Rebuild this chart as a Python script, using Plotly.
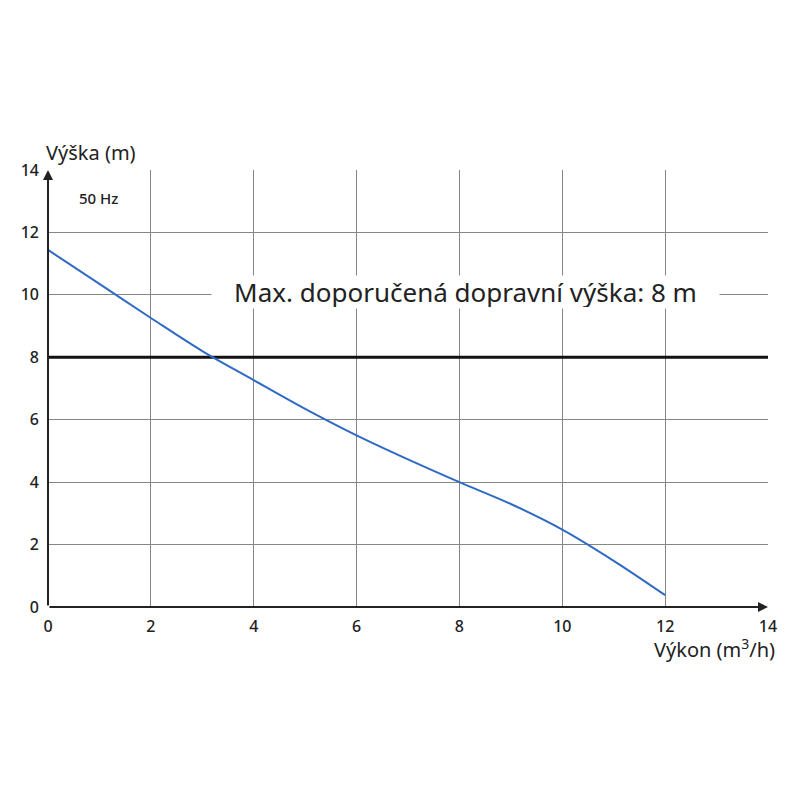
import plotly.graph_objects as go

# Pump curve data (flow m3/h vs head m)
flow = [0, 1, 2, 3, 4, 5, 6, 7, 8, 9, 10, 11, 12]
head = [11.44, 10.35, 9.26, 8.2, 7.27, 6.35, 5.5, 4.73, 4.0, 3.3, 2.48, 1.48, 0.38]

max_head = 8
x_ticks = [0, 2, 4, 6, 8, 10, 12, 14]
y_ticks = [0, 2, 4, 6, 8, 10, 12, 14]

FONT = "Noto Sans"
TXT = "#222222"

fig = go.Figure()

fig.add_trace(go.Scatter(x=[0, 14], y=[max_head, max_head], mode="lines",
                         line=dict(color="#111111", width=3), hoverinfo="skip"))
fig.add_trace(go.Scatter(x=flow, y=head, mode="lines",
                         line=dict(color="#2f6ac4", width=2, shape="spline", smoothing=1.0),
                         hoverinfo="skip"))

fig.update_layout(
    width=800, height=800,
    margin=dict(l=40, r=40, t=162, b=201),
    paper_bgcolor="white", plot_bgcolor="white",
    showlegend=False,
    font=dict(family=FONT, color=TXT, size=16),
    xaxis=dict(range=[0, 14], tickvals=x_ticks, ticktext=[str(v) for v in x_ticks],
               showgrid=True, gridcolor="#8a8583", gridwidth=1.3, zeroline=False,
               showline=False, ticks="", automargin=False,
               tickfont=dict(size=16, color=TXT, weight=500),
               ticklabelstandoff=8),
    yaxis=dict(range=[0, 14], tickvals=y_ticks, ticktext=[str(v) for v in y_ticks],
               showgrid=True, gridcolor="#8a8583", gridwidth=1.3, zeroline=False,
               showline=False, ticks="", automargin=False,
               tickfont=dict(size=16, color=TXT, weight=500),
               ticklabelstandoff=8),
)

# axes with arrows
fig.add_annotation(x=0, y=14, ax=0, ay=0, xref="x", yref="y", axref="x", ayref="y",
                   showarrow=True, arrowhead=2, arrowsize=1, arrowwidth=2,
                   arrowcolor=TXT, text="")
fig.add_annotation(x=14, y=0, ax=0, ay=0, xref="x", yref="y", axref="x", ayref="y",
                   showarrow=True, arrowhead=2, arrowsize=1, arrowwidth=2,
                   arrowcolor=TXT, text="")

# axis titles
fig.add_annotation(text="Výška (m)", xref="paper", yref="paper", x=0, y=1,
                   xanchor="left", yanchor="middle", yshift=18, xshift=-4, showarrow=False,
                   font=dict(size=20, color=TXT))
fig.add_annotation(text="Výkon (m<sup>3</sup>/h)", xref="paper", yref="paper", x=1, y=0,
                   xanchor="right", yanchor="middle", yshift=-41, xshift=9, showarrow=False,
                   font=dict(size=20, color=TXT))

fig.add_annotation(text="50 Hz", xref="x", yref="y", x=0.99, y=13.1, showarrow=False,
                   font=dict(size=15, color=TXT, weight=500))

fig.add_annotation(text="Max. doporučená dopravní výška: 8 m", xref="x", yref="y",
                   x=8.11, y=10.1, showarrow=False, bgcolor="white",
                   width=505, height=30, align="center",
                   font=dict(size=26, color=TXT))

fig.write_html("out.html")
